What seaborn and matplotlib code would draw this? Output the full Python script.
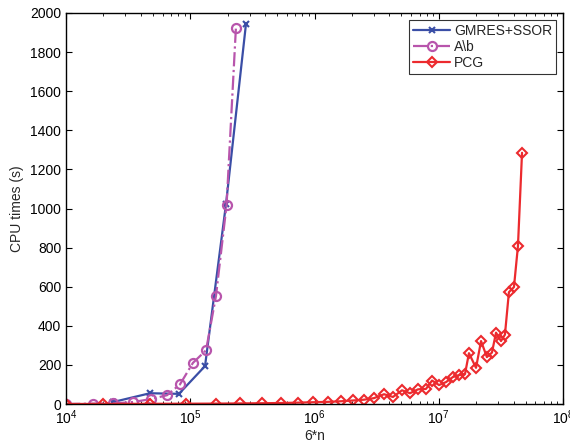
import numpy as np
import pandas as pd
import matplotlib
matplotlib.use("Agg")
import matplotlib.pyplot as plt
import seaborn as sns
from matplotlib.ticker import LogLocator, FixedLocator

# ---- data ----
gmres_x = [2.39e4, 4.74e4, 8.11e4, 1.315e5, 1.94e5, 2.81e5]
gmres_y = [10, 55, 52, 194, 1023, 1945]

ab_x = [1.0e4, 1.65e4, 2.4e4, 3.46e4, 4.8e4, 6.5e4, 8.26e4, 1.05e5, 1.34e5, 1.61e5, 1.96e5, 2.33e5]
ab_y = [0, 2, 3, 10, 25, 45, 100, 210, 275, 552, 1017, 1922]

pcg_x = [1.0e4, 1.99e4, 4.74e4, 9.25e4, 1.61e5, 2.51e5, 3.78e5, 5.37e5, 7.36e5,
         9.72e5, 1.285e6, 1.634e6, 2.04e6, 2.50e6, 3.01e6, 3.63e6, 4.28e6, 5.06e6,
         5.87e6, 6.81e6, 7.89e6, 8.83e6, 1.005e7, 1.144e7, 1.30e7, 1.456e7, 1.626e7,
         1.75e7, 1.995e7, 2.19e7, 2.44e7, 2.68e7, 2.89e7, 3.17e7, 3.41e7, 3.67e7,
         4.03e7, 4.34e7, 4.68e7]
pcg_y = [0, 0.5, 1, 1.5, 2, 3, 4, 5, 7,
         9, 11, 14, 18, 22, 30, 50, 36, 70,
         55, 75, 77, 120, 97, 112, 138, 148, 153,
         260, 185, 322, 240, 263, 365, 322, 355, 572,
         598, 808, 1285]

series_names = ["GMRES+SSOR", "A\\b", "PCG"]
y_ticks = [0, 200, 400, 600, 800, 1000, 1200, 1400, 1600, 1800, 2000]

# ---- style ----
sns.set_style("ticks")
plt.rcParams['font.family'] = ['Liberation Sans', 'DejaVu Sans']
plt.rcParams['font.size'] = 10
plt.rcParams['axes.linewidth'] = 1.0

fig = plt.figure(figsize=(5.7, 4.43), dpi=100)
ax = fig.add_axes([66/570, 39/443, (563-66)/570, (404-13)/443])

blue = '#3a4ea6'
mag = '#b855ac'
red = '#ec2a2e'

df_g = pd.DataFrame({'x': gmres_x, 'y': gmres_y})
df_a = pd.DataFrame({'x': ab_x, 'y': ab_y})
df_p = pd.DataFrame({'x': pcg_x, 'y': pcg_y})

sns.lineplot(data=df_g, x='x', y='y', ax=ax, color=blue, marker='x', markersize=4,
             markeredgewidth=1.5, markeredgecolor=blue, linewidth=1.6,
             estimator=None, sort=False, label=series_names[0])
sns.lineplot(data=df_a, x='x', y='y', ax=ax, color=mag, marker='o', markersize=6.5,
             markerfacecolor='none', markeredgecolor=mag, markeredgewidth=1.6,
             linewidth=1.6, linestyle='-.', estimator=None, sort=False,
             label=series_names[1])
sns.lineplot(data=df_p, x='x', y='y', ax=ax, color=red, marker='D', markersize=5,
             markerfacecolor='none', markeredgecolor=red, markeredgewidth=1.5,
             linewidth=1.6, estimator=None, sort=False, label=series_names[2])

ax.set_xscale('log')
ax.set_xlim(1e4, 1e8)
ax.set_ylim(0, 2000)
ax.yaxis.set_major_locator(FixedLocator(y_ticks))
ax.xaxis.set_major_locator(LogLocator(base=10, numticks=10))
ax.xaxis.set_minor_locator(LogLocator(base=10, subs=np.arange(2, 10), numticks=20))

for s in ['top', 'right', 'left', 'bottom']:
    ax.spines[s].set_visible(True)
    ax.spines[s].set_color('black')
ax.tick_params(which='both', direction='in', top=True, right=True, colors='black',
               labelsize=10)
ax.tick_params(which='major', length=4)
ax.tick_params(which='minor', length=2)

ax.set_xlabel('6*n', fontsize=10, labelpad=1)
ax.set_ylabel('CPU times (s)', fontsize=10, labelpad=4)

leg = ax.legend(loc='upper right', frameon=True, fancybox=False, fontsize=10,
                handlelength=2.6, borderpad=0.3, labelspacing=0.15,
                borderaxespad=0.5, handletextpad=0.3)
leg.get_frame().set_edgecolor('black')
leg.get_frame().set_linewidth(0.8)

fig.savefig('out.png', dpi=100)
